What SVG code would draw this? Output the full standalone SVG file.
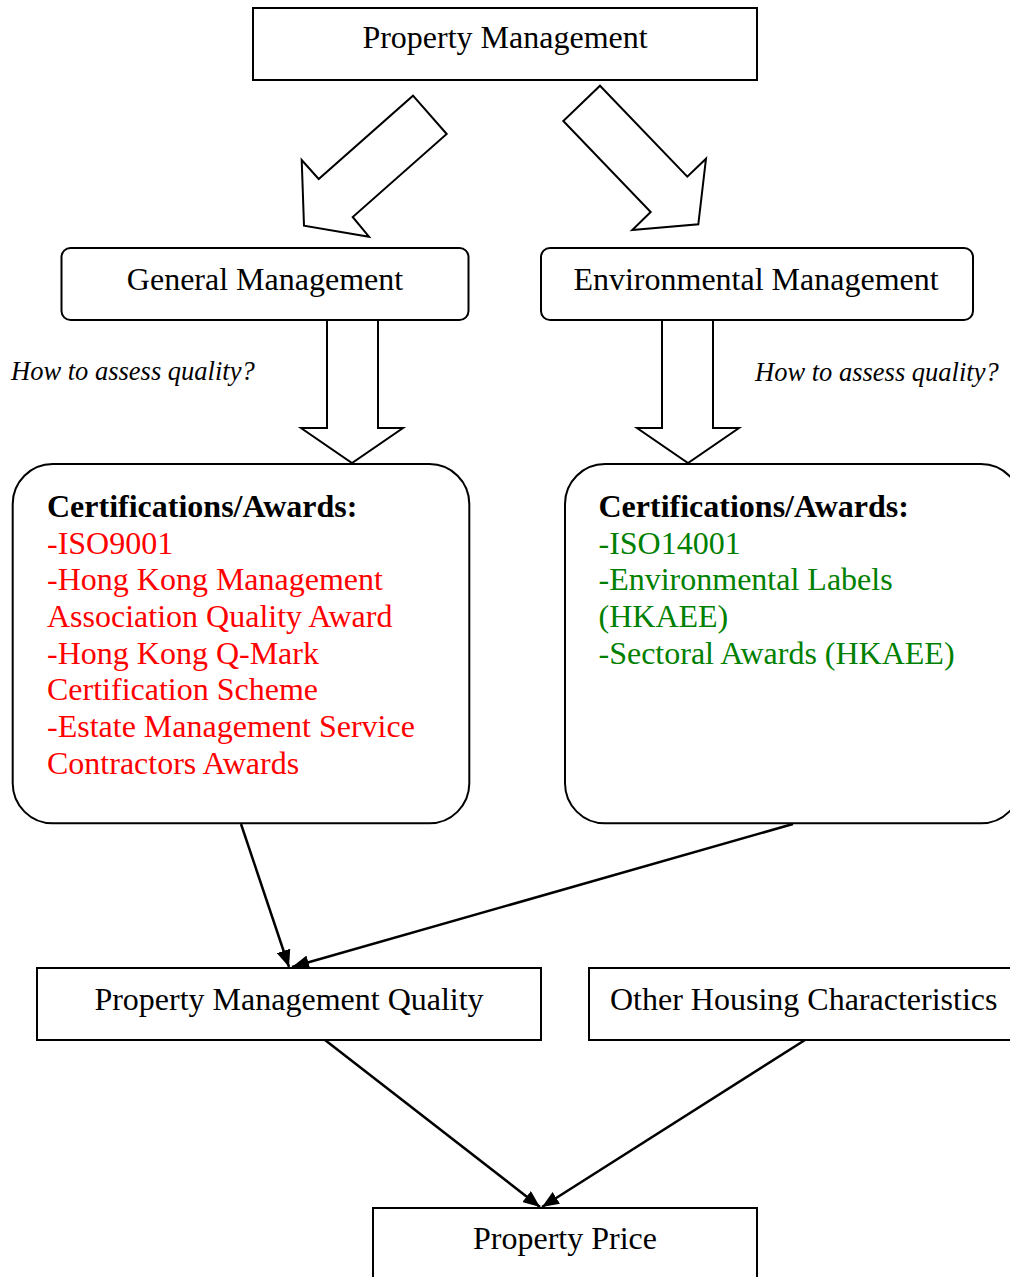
<svg xmlns="http://www.w3.org/2000/svg" width="1010" height="1277" viewBox="0 0 1010 1277">
<style>
.box{fill:#fff;stroke:#000;stroke-width:2}
.blk{fill:#fff;stroke:#000;stroke-width:2;stroke-linejoin:miter}
.t{font-family:"Liberation Serif","Times New Roman",serif;font-size:32px;fill:#000}
.c{text-anchor:middle}
.q{font-family:"Liberation Serif","Times New Roman",serif;font-size:26.5px;font-style:italic;fill:#000}
.h{font-weight:bold}
.red{fill:#ff0000}
.grn{fill:#008000}
.con{stroke:#000;stroke-width:2.5;fill:none;marker-end:url(#ah)}
</style>
<defs>
<marker id="ah" markerWidth="17" markerHeight="14" refX="17" refY="7" orient="auto" markerUnits="userSpaceOnUse">
<path d="M0,0 L17,7 L0,14 z" fill="#000"/>
</marker>
</defs>
<rect width="1010" height="1277" fill="#fff"/>

<g id="connectors">
<polygon class="blk" points="413,95.7 446.7,134 352.7,217 369,236.7 304,225.7 301.7,160 318.7,179"/>
<polygon class="blk" points="600,85.7 687.3,176.7 706,158.7 698.3,224.3 632.3,230 650.7,212 563.3,121"/>
<polygon class="blk" points="327,320 327,428 301,428 352,463 403,428 378,428 378,320"/>
<polygon class="blk" points="662,320 662,428 637,428 688,463 739,428 713,428 713,320"/>
<line class="con" x1="241" y1="824" x2="289" y2="967"/>
<line class="con" x1="793" y1="824" x2="292" y2="967"/>
<line class="con" x1="325" y1="1040" x2="540" y2="1207"/>
<line class="con" x1="805" y1="1040" x2="542" y2="1207"/>
</g>

<g id="property-management">
<rect class="box" x="253" y="8" width="504" height="72"/>
<text class="t c" x="505" y="48">Property Management</text>
</g>

<g id="general-management">
<rect class="box" x="61.5" y="248" width="407" height="72" rx="9"/>
<text class="t c" x="265" y="290">General Management</text>
</g>

<g id="environmental-management">
<rect class="box" x="541" y="248" width="432" height="72" rx="9"/>
<text class="t c" x="756" y="290">Environmental Management</text>
</g>

<g id="label-left">
<text class="q" x="11" y="380">How to assess quality?</text>
</g>
<g id="label-right">
<text class="q" x="755" y="381">How to assess quality?</text>
</g>

<g id="general-certifications">
<rect class="box" x="12.7" y="464" width="456.6" height="359.3" rx="40"/>
<text class="t h" x="47" y="517">Certifications/Awards:</text>
<text class="t red" x="47" y="553.5">-ISO9001</text>
<text class="t red" x="47" y="590">-Hong Kong Management</text>
<text class="t red" x="47" y="626.8">Association Quality Award</text>
<text class="t red" x="47" y="663.5">-Hong Kong Q-Mark</text>
<text class="t red" x="47" y="700.2">Certification Scheme</text>
<text class="t red" x="47" y="737">-Estate Management Service</text>
<text class="t red" x="47" y="773.6">Contractors Awards</text>
</g>

<g id="environmental-certifications">
<rect class="box" x="565" y="464" width="456" height="359.3" rx="40"/>
<text class="t h" x="598.5" y="517">Certifications/Awards:</text>
<text class="t grn" x="598.5" y="553.5">-ISO14001</text>
<text class="t grn" x="598.5" y="590">-Environmental Labels</text>
<text class="t grn" x="598.5" y="626.8">(HKAEE)</text>
<text class="t grn" x="598.5" y="663.5">-Sectoral Awards (HKAEE)</text>
</g>

<g id="property-management-quality">
<rect class="box" x="37" y="968" width="504" height="72"/>
<text class="t c" x="289" y="1010">Property Management Quality</text>
</g>

<g id="other-housing-characteristics">
<rect class="box" x="589" y="968" width="504" height="72"/>
<text class="t" x="610" y="1010">Other Housing Characteristics</text>
</g>

<g id="property-price">
<rect class="box" x="373" y="1208" width="384" height="80"/>
<text class="t c" x="565" y="1249">Property Price</text>
</g>
</svg>
